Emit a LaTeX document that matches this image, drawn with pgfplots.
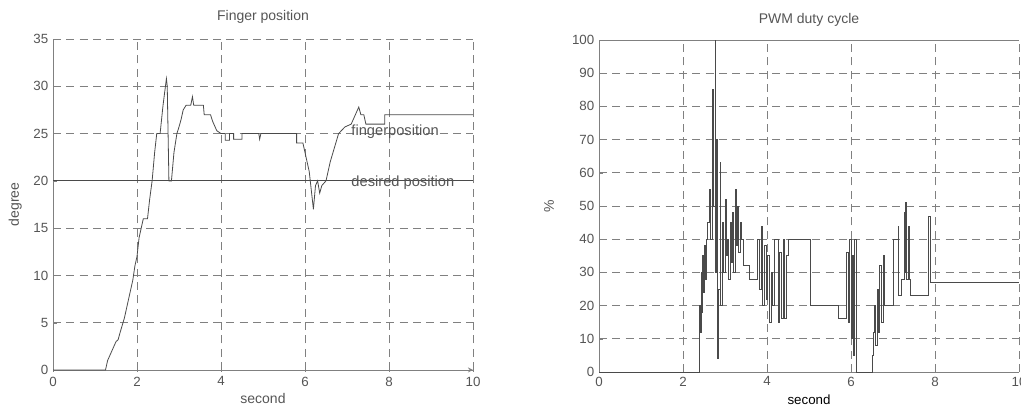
\documentclass[border=0pt]{standalone}
\usepackage{fontspec}
\setmainfont{Liberation Sans}
\usepackage{pgfplots}
\usepackage{pgfplotstable}
\pgfplotsset{compat=1.18}
\definecolor{linec}{HTML}{4A4A4A}
\definecolor{gridc}{HTML}{808080}
\definecolor{textc}{HTML}{555555}

\pgfplotstableread{
x y
0 0
1.25 0
1.30 1
1.40 2
1.50 3
1.55 3.2
1.60 4
1.70 5.5
1.75 6.5
1.80 7.5
1.90 9.5
1.95 11
2.00 12
2.05 14
2.10 15
2.15 16
2.25 16
2.30 18
2.36 20
2.42 23
2.47 25
2.55 25
2.62 28
2.70 30.8
2.72 30
2.76 20
2.82 20
2.88 23
2.95 25
3.00 25.7
3.05 26.5
3.10 27.5
3.17 28
3.28 28
3.32 28.9
3.35 28
3.58 28
3.60 27
3.75 27
3.80 26.3
3.90 25.3
4.00 25
4.10 25
4.10 24.3
4.20 24.3
4.20 25
4.30 25
4.30 24.4
4.50 24.4
4.50 25
4.90 25
4.92 24.4
4.95 25
5.80 25
5.80 24
5.95 24
6.00 23
6.10 21
6.15 19
6.20 17
6.25 19.5
6.30 20
6.35 18.7
6.40 19.5
6.50 20
6.60 22
6.70 23.5
6.80 25
6.95 25.7
7.10 26
7.20 27
7.28 27.8
7.33 27
7.40 27
7.45 26
7.90 26
7.90 27
10 27
}\fingertable

\pgfplotstableread{
x y
0 0
2.40 20
2.42 12
2.44 30
2.45 18
2.47 35
2.49 24
2.51 38
2.53 28
2.55 40
2.58 45
2.62 55
2.66 40
2.70 85
2.73 50
2.76 100
2.78 30
2.80 70
2.82 4
2.85 25
2.88 63
2.90 20
2.93 45
2.96 30
3.00 52
3.03 35
3.06 40
3.09 28
3.12 45
3.15 33
3.18 48
3.21 30
3.24 55
3.27 38
3.30 50
3.33 36
3.36 45
3.40 40
3.44 32
3.57 28
3.77 40
3.82 25
3.86 44
3.90 20
3.94 38
3.98 22
4.02 35
4.06 15
4.10 30
4.14 20
4.18 40
4.26 15
4.30 36
4.34 16
4.38 40
4.42 16
4.46 35
4.50 40
5.03 20
5.70 16
5.90 36
5.93 15
5.96 40
6.00 10
6.03 35
6.06 5
6.08 40
6.12 0
6.50 5
6.53 12
6.56 20
6.59 8
6.62 25
6.65 12
6.68 32
6.72 15
6.76 35
6.80 20
7.00 40
7.12 44
7.14 23
7.20 28
7.26 48
7.28 30
7.30 51
7.33 28
7.36 44
7.39 28
7.42 23
7.85 47
7.88 27
10 27
}\pwmtable

\pgfplotsset{mystyle/.style={
  scale only axis, width=315pt,
  xmin=0, xmax=10, xtick={0,2,...,10},
  axis y line=left,
  axis line style={-, gridc, line width=0.7pt},
  grid=major,
  major grid style={gridc, dash pattern=on 6pt off 4pt, line width=0.6pt},
  tick align=inside, major tick length=3pt, tick style={gridc},
  ticklabel style={font=\fontsize{10}{11}\selectfont, text=textc},
  /pgf/number format/assume math mode=true,
  xlabel style={font=\fontsize{10.5}{11}\selectfont, text=textc, at={(axis description cs:0.5,-0.085)}, anchor=center},
  every axis plot/.append style={linec, line width=0.6pt},
  clip=false,
}}

\begin{document}
\begin{tikzpicture}
\path[use as bounding box] (0,0) rectangle (765.75pt,306.75pt);
\begin{axis}[mystyle,
  at={(39.75pt,29.25pt)}, anchor=south west, height=248.25pt,
  axis x line=bottom,
  ymin=0, ymax=35, ytick={0,5,...,35},
  ylabel style={font=\fontsize{10.5}{11}\selectfont, text=textc, at={(axis description cs:-0.09,0.5)}, anchor=center},
  xlabel={second}, ylabel={degree}]
\addplot[sharp plot] table[x=x,y=y] {\fingertable};
\addplot[sharp plot] coordinates {(0,20) (10,20)};
\node[anchor=west, text=textc, font=\fontsize{11}{12}\selectfont, inner sep=0pt] at (axis cs:7.1,25.2) {fingerposition};
\node[anchor=west, text=textc, font=\fontsize{11}{12}\selectfont, inner sep=0pt] at (axis cs:7.1,19.8) {desired position};
\node[text=textc, font=\fontsize{10.5}{11}\selectfont, inner sep=0pt] at (axis description cs:0.5,1.066) {Finger position};
\end{axis}
\begin{axis}[mystyle,
  at={(449.25pt,27.75pt)}, anchor=south west, height=249pt,
  axis x line=box, xtick pos=bottom,
  ymin=0, ymax=100, ytick={0,10,...,100},
  ylabel style={font=\fontsize{10.5}{11}\selectfont, text=textc, at={(axis description cs:-0.119,0.5)}, anchor=center},
  xlabel={second}, ylabel={\%}]
\addplot[const plot mark left] table[x=x,y=y] {\pwmtable};
\node[text=textc, font=\fontsize{10.5}{11}\selectfont, inner sep=0pt] at (axis description cs:0.5,1.06) {PWM duty cycle};
\end{axis}
\end{tikzpicture}
\end{document}
